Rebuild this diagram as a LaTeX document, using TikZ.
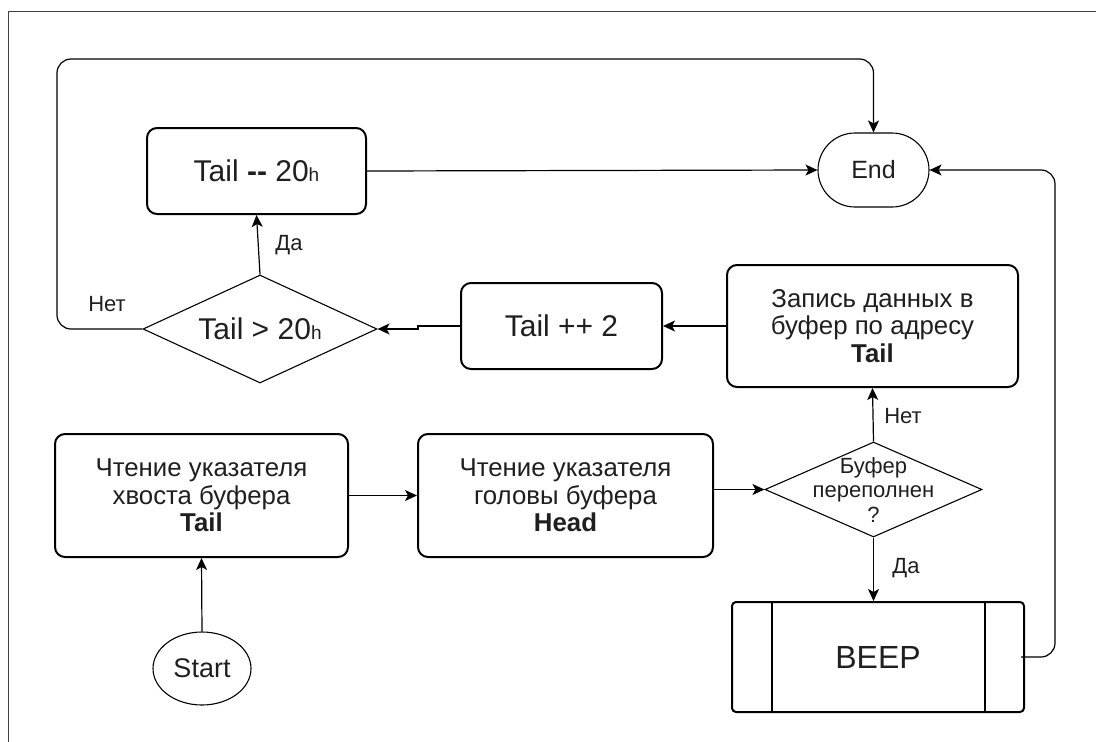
\documentclass[tikz,border=0pt]{standalone}
\usepackage{fontspec}
\setmainfont{Liberation Sans}
\usetikzlibrary{shapes.geometric,shapes.misc,arrows.meta}

\begin{document}
\begin{tikzpicture}[x=1pt,y=-1pt,
  every node/.style={text=black!88},
  proc/.style={draw, line width=2pt, rounded corners=10pt, align=center, inner sep=0pt,
    font=\fontsize{25.8}{27.5}\selectfont},
  cond/.style={draw, diamond, line width=1.1pt, inner sep=0pt, align=center},
  term/.style={draw, line width=1.1pt, inner sep=0pt},
  flow/.style={line width=1.2pt, -{Stealth[length=12pt,width=11pt,inset=3pt]}},
  lbl/.style={font=\fontsize{22}{24}\selectfont, inner sep=0pt},
  big/.style={font=\fontsize{30}{32}\selectfont},
]
\useasboundingbox (0,0) rectangle (1096,742);
% frame
\draw[line width=1pt, black!75] (8,742) -- (8,11) -- (1096,11);

% nodes
\node[proc, big, minimum width=219, minimum height=86] (tailm) at (256.5,171)
  {Tail \textbf{-{}-} 20{\fontsize{19}{20}\selectfont h}};
\node[term, rounded rectangle, minimum width=111, minimum height=74,
  font=\fontsize{25}{28}\selectfont] (endn) at (873.5,170) {End};
\node[cond, big, shape aspect=2.17, minimum width=234, minimum height=108] (d1) at (260,329)
  {Tail > 20{\fontsize{19}{20}\selectfont h}};
\node[proc, big, minimum width=201, minimum height=86] (tail2) at (561.5,326) {Tail ++ 2};
\node[proc, minimum width=291, minimum height=122] (zap) at (872.5,326)
  {Запись данных в\\буфер по адресу\\\textbf{Tail}};
\node[cond, minimum width=217, minimum height=95] (dia2) at (873.5,489.5) {};
\node[align=center, inner sep=0pt, font=\fontsize{22}{24.5}\selectfont] (dia2txt) at (873.5,490)
  {Буфер\\переполнен\\?};
\node[proc, minimum width=293, minimum height=123] (box1) at (201.5,495.5)
  {Чтение указателя\\хвоста буфера\\\textbf{Tail}};
\node[proc, minimum width=295, minimum height=123] (box2) at (565.5,495.5)
  {Чтение указателя\\головы буфера\\\textbf{Head}};
\node[draw, line width=2pt, rounded corners=4pt, minimum width=292, minimum height=110,
  font=\fontsize{32}{34}\selectfont] (beep) at (878,657) {BEEP};
\draw[line width=2pt] ([xshift=41pt]beep.north west) -- ([xshift=41pt]beep.south west)
  ([xshift=-40pt]beep.north east) -- ([xshift=-40pt]beep.south east);
\node[term, ellipse, minimum width=98, minimum height=73, font=\fontsize{27}{30}\selectfont]
  (start) at (202,668.5) {Start};

% connectors
\draw[flow] (start.north) -- (box1.south);
\draw[flow] (box1.east) -- (box2.west);
\draw[flow] (box2.east |- dia2.west) -- (dia2.west);
\draw[flow] (dia2.north) -- (zap.south);
\draw[flow] (dia2.south) -- (dia2.south |- beep.north);
\draw[flow] (zap.west) -- (tail2.east);
\draw[flow] (tail2.west) -- ++(-42,0) |- (d1.east);
\draw[flow] (d1.north) -- (tailm.south);
\draw[flow] (tailm.east) -- (endn.west);
\draw[flow, rounded corners=14pt] (d1.west) -| (57,59) -| (endn.north);
\draw[flow, rounded corners=14pt] ([xshift=-4pt]beep.east) -- (1055,657) |- (endn.east);

% branch labels
\node[lbl] (l1) at (107,304) {Нет};
\node[lbl] (l2) at (289,245) {Да};
\node[lbl] (l3) at (903,416) {Нет};
\node[lbl] (l4) at (906,568) {Да};
\end{tikzpicture}
\end{document}
